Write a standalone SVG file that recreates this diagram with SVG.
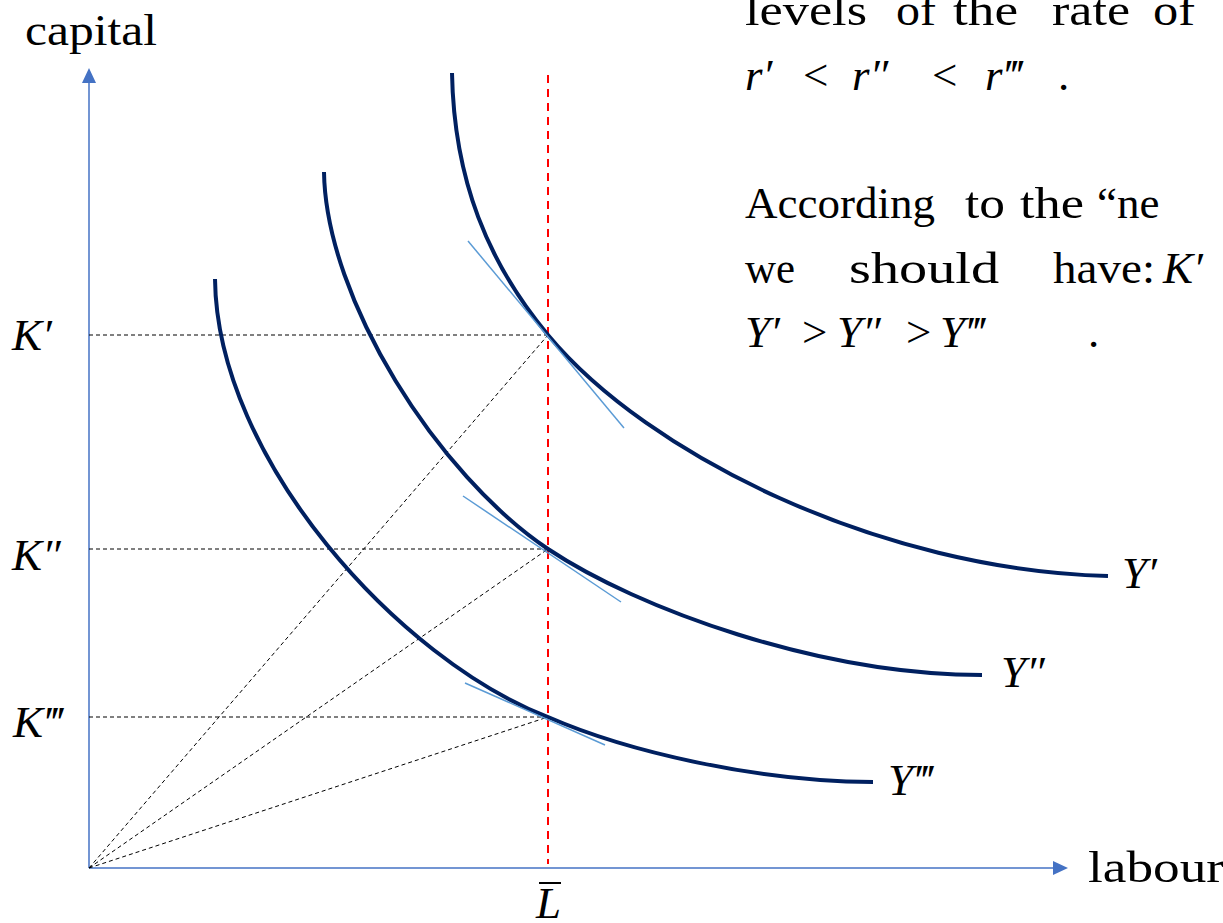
<svg xmlns="http://www.w3.org/2000/svg" width="1223" height="923" viewBox="0 0 1223 923">
<style>
.axis{stroke:#4472C4;stroke-width:1.5;fill:none}
.curve{stroke:#002060;stroke-width:4;fill:none}
.tan{stroke:#5B9BD5;stroke-width:1.5;fill:none}
.guide{stroke:#000;stroke-width:1;stroke-dasharray:4 3;fill:none}
.red{stroke:#FF0000;stroke-width:2;stroke-dasharray:8 6;fill:none}
.txt{font-family:"Liberation Serif","DejaVu Serif",serif;font-size:45px;fill:#000}
.math{font-family:"Liberation Serif","DejaVu Serif",serif;font-size:45px;font-style:italic;fill:#000}
.op{font-family:"Liberation Serif","DejaVu Serif",serif;font-size:45px;fill:#000}
</style>
<rect width="1223" height="923" fill="#fff"/>
<g id="axes">
<line class="axis" x1="89" y1="868" x2="89" y2="80"/>
<path d="M82,83 L89,68 L96,83 z" fill="#4472C4"/>
<line class="axis" x1="89" y1="868" x2="1056" y2="868"/>
<path d="M1053,861 L1068,868 L1053,875 z" fill="#4472C4"/>
<text class="txt" x="25" y="45" textLength="132" lengthAdjust="spacingAndGlyphs">capital</text>
<text class="txt" x="1088" y="882" textLength="136" lengthAdjust="spacingAndGlyphs">labour</text>
</g>
<g id="connectors">
<line class="guide" x1="89" y1="335" x2="548" y2="335"/>
<line class="guide" x1="89" y1="549" x2="548" y2="549"/>
<line class="guide" x1="89" y1="717" x2="548" y2="717"/>
<line class="guide" x1="89" y1="868" x2="548" y2="335"/>
<line class="guide" x1="89" y1="868" x2="548" y2="549"/>
<line class="guide" x1="89" y1="868" x2="548" y2="717"/>
<line class="red" x1="548" y1="75" x2="548" y2="864"/>
</g>
<g id="isoquant-Y1">
<path class="curve" d="M452,73 C454,180 488,263 548,335 C648,455 880,570 1108,576"/>
<line class="tan" x1="468" y1="241" x2="624" y2="428"/>
<text class="math" x="1122" y="588">Y′</text>
</g>
<g id="isoquant-Y2">
<path class="curve" d="M324,172 C326,300 438,475 548,549 C638,609 820,675 982,675"/>
<line class="tan" x1="463" y1="496" x2="621" y2="602"/>
<text class="math" x="1001" y="687">Y″</text>
</g>
<g id="isoquant-Y3">
<path class="curve" d="M215,279 C217,460 400,660 548,717 C628,752 760,782 873,782"/>
<line class="tan" x1="465" y1="683" x2="605" y2="745"/>
<text class="math" x="888" y="795">Y‴</text>
</g>
<g id="labels">
<text class="math" x="12" y="350">K′</text>
<text class="math" x="12" y="570">K″</text>
<text class="math" x="13" y="737">K‴</text>
<text class="math" x="536" y="918">L</text>
<line x1="539" y1="883" x2="561" y2="883" stroke="#000" stroke-width="2"/>
</g>
<g id="note">
<text class="txt" x="745" y="25" textLength="122" lengthAdjust="spacingAndGlyphs">levels</text>
<text class="txt" x="896" y="25" textLength="40" lengthAdjust="spacingAndGlyphs">of</text>
<text class="txt" x="953" y="25" textLength="65" lengthAdjust="spacingAndGlyphs">the</text>
<text class="txt" x="1052" y="25" textLength="78" lengthAdjust="spacingAndGlyphs">rate</text>
<text class="txt" x="1153" y="25" textLength="42" lengthAdjust="spacingAndGlyphs">of</text>
<text y="90"><tspan class="math" x="745">r′</tspan><tspan class="op" x="803">&lt;</tspan><tspan class="math" x="852">r″</tspan><tspan class="op" x="932">&lt;</tspan><tspan class="math" x="985">r‴</tspan><tspan class="op" x="1058">.</tspan></text>
<text class="txt" x="745" y="218" textLength="190" lengthAdjust="spacingAndGlyphs">According</text>
<text class="txt" x="965" y="218" textLength="40" lengthAdjust="spacingAndGlyphs">to</text>
<text class="txt" x="1020" y="218" textLength="64" lengthAdjust="spacingAndGlyphs">the</text>
<text class="txt" x="1097" y="218">“ne</text>
<text class="txt" x="745" y="283" textLength="50" lengthAdjust="spacingAndGlyphs">we</text>
<text class="txt" x="849" y="283" textLength="150" lengthAdjust="spacingAndGlyphs">should</text>
<text class="txt" x="1053" y="283" textLength="102" lengthAdjust="spacingAndGlyphs">have:</text>
<text class="math" x="1163" y="283">K′</text>
<text y="347"><tspan class="math" x="745">Y′</tspan><tspan class="op" x="802">&gt;</tspan><tspan class="math" x="837">Y″</tspan><tspan class="op" x="906">&gt;</tspan><tspan class="math" x="940">Y‴</tspan><tspan class="op" x="1088">.</tspan></text>
</g>
</svg>
